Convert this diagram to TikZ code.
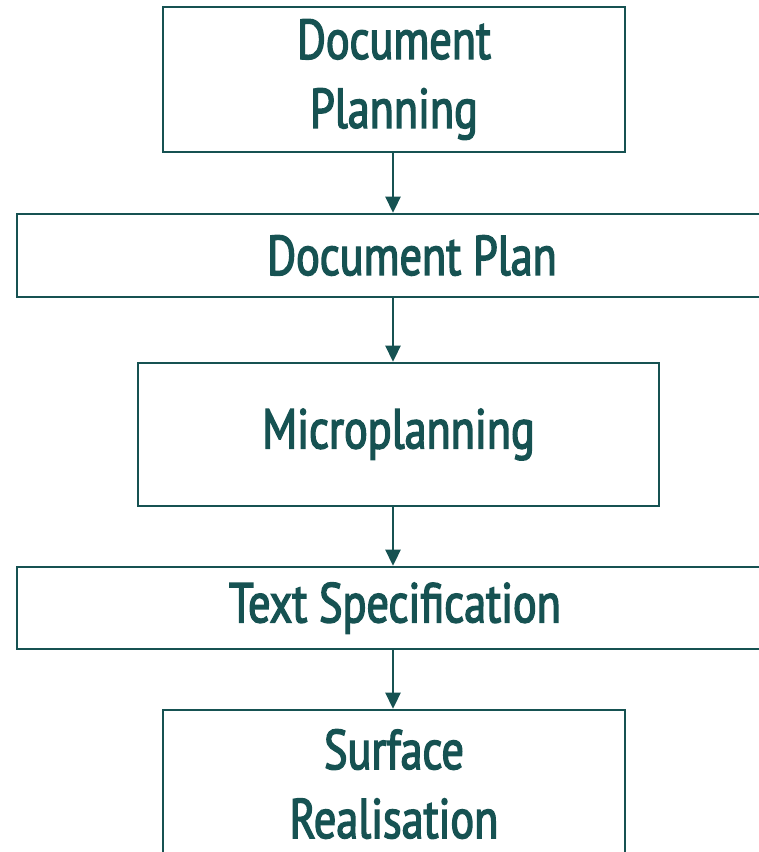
\documentclass[tikz,border=0pt]{standalone}
\usepackage{fontspec}
\setmainfont[FakeStretch=0.79,FakeBold=2.5]{PT Sans}
\usetikzlibrary{arrows.meta}
\definecolor{planteal}{RGB}{22,82,82}
\begin{document}
\begin{tikzpicture}[x=1pt, y=-1pt,
    stage/.style={draw=planteal, line width=2.6pt, inner sep=0pt, text=planteal,
        font=\fontsize{56}{69}\selectfont, align=center},
    flow/.style={draw=planteal, line width=2.6pt, -{Triangle[width=15pt,length=16pt]}}]
    \useasboundingbox (0,0) rectangle (759,852);
    \clip (0,0) rectangle (759,852);
    \node[stage, minimum width=462pt, minimum height=145pt] (docplanning) at (394,79.5) {Document\\Planning};
    \node[stage, minimum width=790pt, minimum height=83pt] (docplan) at (412,255.5) {Document Plan};
    \node[stage, minimum width=521pt, minimum height=143pt] (micro) at (398.5,434.5) {Microplanning};
    \node[stage, minimum width=756pt, minimum height=82pt] (textspec) at (395,608) {Text Specification};
    \node[stage, minimum width=462pt, minimum height=148pt] (surface) at (394,784) {Surface\\Realisation};
    \draw[flow] (docplanning.south -| 393,0) -- (docplan.north -| 393,0);
    \draw[flow] (docplan.south -| 393,0) -- (micro.north -| 393,0);
    \draw[flow] (micro.south -| 393,0) -- (textspec.north -| 393,0);
    \draw[flow] (textspec.south -| 393,0) -- (surface.north -| 393,0);
\end{tikzpicture}
\end{document}
